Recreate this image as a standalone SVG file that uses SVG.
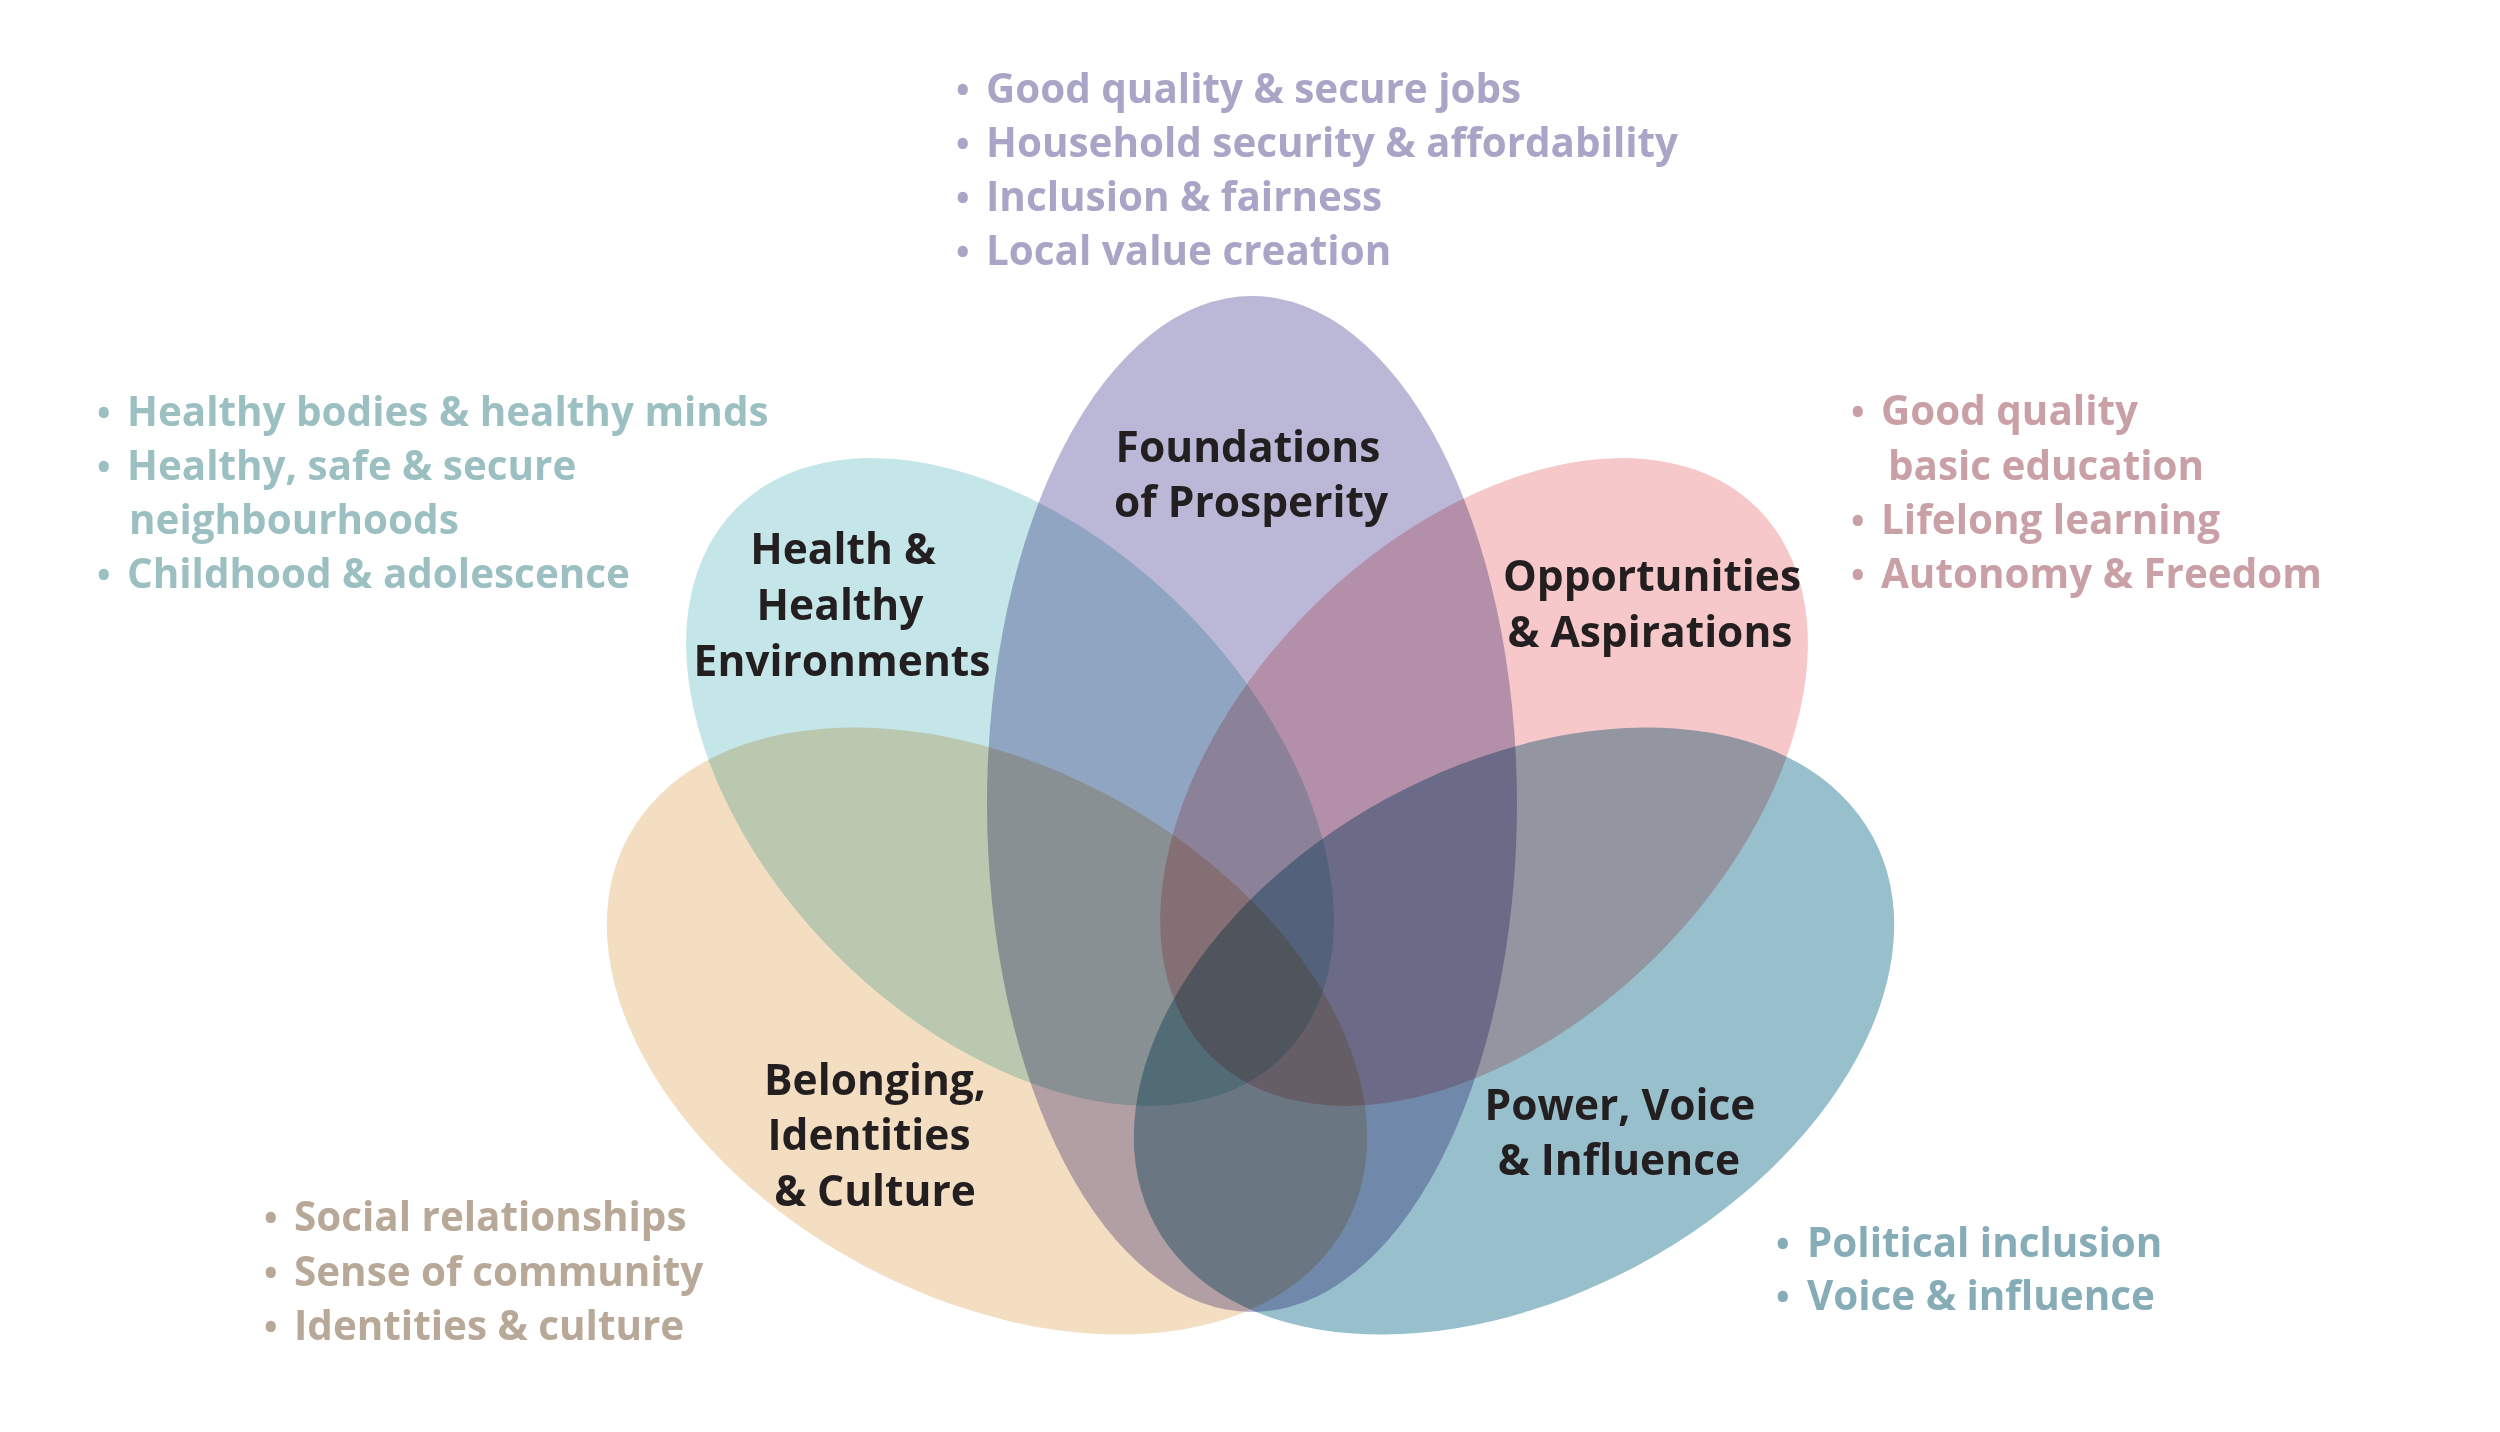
<svg xmlns="http://www.w3.org/2000/svg" width="2500" height="1432" viewBox="0 0 2500 1432">
<style>
  .petal { mix-blend-mode: multiply; }
  text { font-family: "Open Sans", "Liberation Sans", sans-serif; font-weight: 700; font-size: 40.4px; }
  .lbl { fill: #231f20; text-anchor: middle; font-size: 42.5px; }
  .b { font-size: 36px; }
  .lp { fill: #a9a5c6; }
  .lt { fill: #9cbfc1; }
  .lk { fill: #c9a0a6; }
  .ln { fill: #b8a898; }
  .lb { fill: #85acb7; }
</style>
<rect width="2500" height="1432" fill="#ffffff"/>
<g id="connectors"></g>

<g id="node-foundations">
  <ellipse class="petal" cx="1252" cy="804" rx="265" ry="508" fill="#bbb7d6"/>
  <text class="lbl" x="1248" y="462">Foundations</text>
  <text class="lbl" x="1251" y="517">of Prosperity</text>
  <text class="lp" y="103"><tspan class="b" x="956">•</tspan><tspan x="986">Good quality &amp; secure jobs</tspan></text>
  <text class="lp" y="157"><tspan class="b" x="956">•</tspan><tspan x="986">Household security &amp; affordability</tspan></text>
  <text class="lp" y="211"><tspan class="b" x="956">•</tspan><tspan x="986">Inclusion &amp; fairness</tspan></text>
  <text class="lp" y="265"><tspan class="b" x="956">•</tspan><tspan x="986">Local value creation</tspan></text>
</g>

<g id="node-health">
  <ellipse class="petal" cx="0" cy="0" rx="387" ry="245" transform="translate(1010,782) rotate(45)" fill="#c4e6e8"/>
  <text class="lbl" x="843" y="564">Health &amp;</text>
  <text class="lbl" x="840" y="620">Healthy</text>
  <text class="lbl" x="842" y="676">Environments</text>
  <text class="lt" y="426"><tspan class="b" x="97">•</tspan><tspan x="127">Healthy bodies &amp; healthy minds</tspan></text>
  <text class="lt" y="480"><tspan class="b" x="97">•</tspan><tspan x="127">Healthy, safe &amp; secure</tspan></text>
  <text class="lt" x="129" y="534">neighbourhoods</text>
  <text class="lt" y="588"><tspan class="b" x="97">•</tspan><tspan x="127">Childhood &amp; adolescence</tspan></text>
</g>

<g id="node-opportunities">
  <ellipse class="petal" cx="0" cy="0" rx="387" ry="245" transform="translate(1484,782) rotate(-45)" fill="#f6c8c9"/>
  <text class="lbl" x="1652" y="591">Opportunities</text>
  <text class="lbl" x="1650" y="647">&amp; Aspirations</text>
  <text class="lk" y="425"><tspan class="b" x="1851">•</tspan><tspan x="1881">Good quality</tspan></text>
  <text class="lk" x="1888" y="480">basic education</text>
  <text class="lk" y="534"><tspan class="b" x="1851">•</tspan><tspan x="1881">Lifelong learning</tspan></text>
  <text class="lk" y="588"><tspan class="b" x="1851">•</tspan><tspan x="1881">Autonomy &amp; Freedom</tspan></text>
</g>

<g id="node-belonging">
  <ellipse class="petal" cx="0" cy="0" rx="408" ry="265" transform="translate(987,1031) rotate(28.5)" fill="#f3dec2"/>
  <text class="lbl" x="875" y="1095">Belonging,</text>
  <text class="lbl" x="869" y="1150">Identities</text>
  <text class="lbl" x="875" y="1206">&amp; Culture</text>
  <text class="ln" y="1231"><tspan class="b" x="264">•</tspan><tspan x="294">Social relationships</tspan></text>
  <text class="ln" y="1286"><tspan class="b" x="264">•</tspan><tspan x="294">Sense of community</tspan></text>
  <text class="ln" y="1340"><tspan class="b" x="264">•</tspan><tspan x="294">Identities &amp; culture</tspan></text>
</g>

<g id="node-power">
  <ellipse class="petal" cx="0" cy="0" rx="408" ry="265" transform="translate(1514,1031) rotate(-28.5)" fill="#98bfcc"/>
  <text class="lbl" x="1620" y="1120">Power, Voice</text>
  <text class="lbl" x="1619" y="1175">&amp; Influence</text>
  <text class="lb" y="1257"><tspan class="b" x="1776">•</tspan><tspan x="1807">Political inclusion</tspan></text>
  <text class="lb" y="1310"><tspan class="b" x="1776">•</tspan><tspan x="1807">Voice &amp; influence</tspan></text>
</g>
</svg>
